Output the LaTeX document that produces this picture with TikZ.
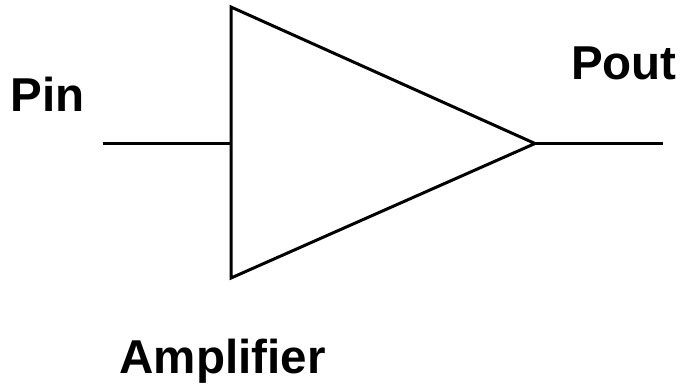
\documentclass[tikz,border=0pt]{standalone}
\usepackage{fontspec}
\setmainfont{Liberation Sans}
\tikzset{
  leadline/.style={line width=2.25pt},
  biglabel/.style={font=\fontsize{35.7}{40}\selectfont\bfseries, inner sep=0pt, anchor=base}
}
\begin{document}
\begin{tikzpicture}[x=0.0264cm, y=-0.0264cm, thick, text=black, draw=black]

        % Keep the page at the size of the reference
        \useasboundingbox (0, 0) rectangle (683, 385);

        % Define the main vertices
        \coordinate (Top) at (231, 7);
        \coordinate (BottomLeft) at (231, 278);
        \coordinate (Tip) at (535, 143.5);
        \coordinate (InLeft) at (103, 143.5);
        \coordinate (InRight) at (231, 143.5);
        \coordinate (OutRight) at (663, 143.5);

        % Draw the amplifier triangle
        \draw[leadline] (Top) -- (Tip) -- (BottomLeft) -- cycle;

        % Draw the input and output leads
        \draw[leadline] (InLeft) -- (InRight);
        \draw[leadline] (Tip) -- (OutRight);

        % Place the labels
        \node[biglabel] (PinLabel) at (47.5, 111) {Pin};
        \node[biglabel] (PoutLabel) at (624, 79) {Pout};
        \node[biglabel] (AmpLabel) at (222.5, 373) {Amplifier};

      \end{tikzpicture}
\end{document}
